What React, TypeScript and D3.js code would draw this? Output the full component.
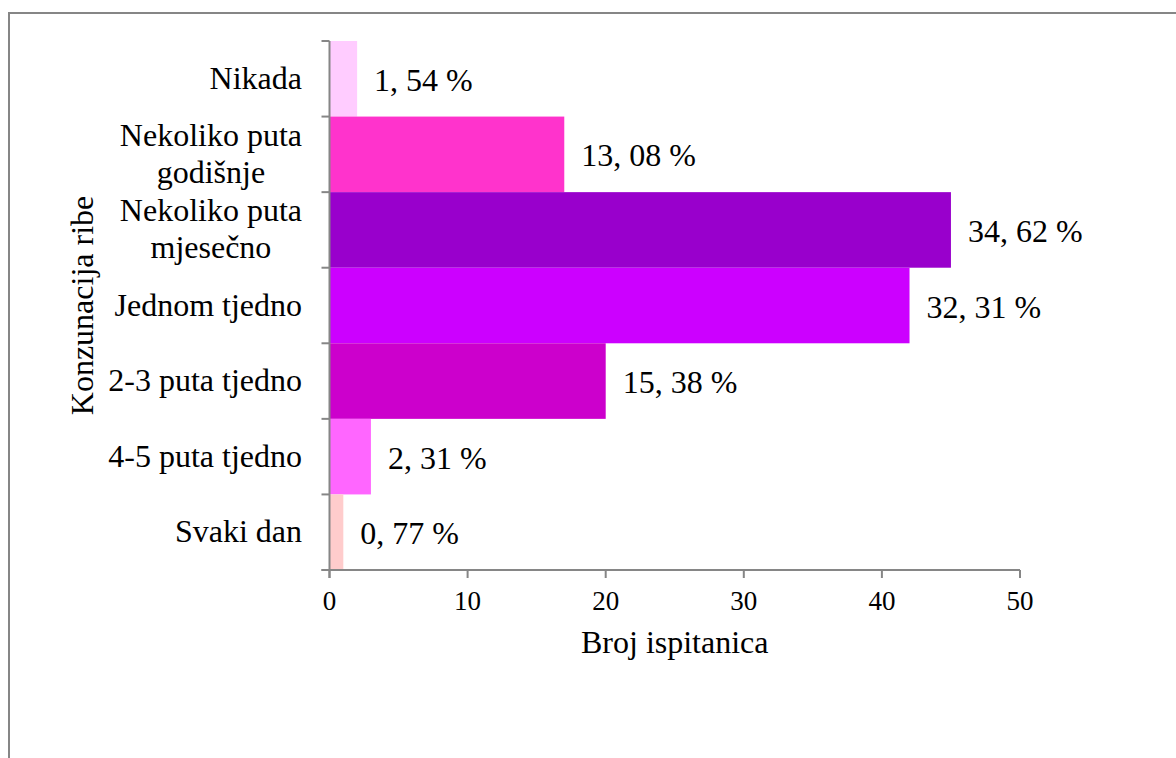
import React, { useEffect, useRef } from 'react';
import * as d3 from 'd3';

// frequency of fish consumption (number of respondents)
const categories = [
  'Nikada',
  'Nekoliko puta\ngodišnje',
  'Nekoliko puta\nmjesečno',
  'Jednom tjedno',
  '2-3 puta tjedno',
  '4-5 puta tjedno',
  'Svaki dan',
];
const counts = [2, 17, 45, 42, 20, 3, 1];
const barColors = ['#FFCCFF', '#FF33CC', '#9900CC', '#CC00FF', '#CC00CC', '#FF66FF', '#FFCCCC'];
const xTicks = [0, 10, 20, 30, 40, 50];

const xTitle = 'Broj ispitanica';
const yTitle = 'Konzunacija ribe';

const FONT = "'Liberation Serif', 'Times New Roman', Times, 'DejaVu Serif', serif";
const AXIS_COLOR = '#868686';

const App: React.FC = () => {
  const svgRef = useRef<SVGSVGElement>(null);

  const width = 1176;
  const height = 758;
  const plot = { left: 329.5, right: 1020, top: 41, bottom: 570 };

  useEffect(() => {
    document.body.style.margin = '0';
    document.body.style.overflow = 'hidden';
    if (!svgRef.current) return;

    const svg = d3.select(svgRef.current);
    svg.selectAll('*').remove();

    const total = d3.sum(counts);

    const x = d3.scaleLinear().domain([0, 50]).range([plot.left, plot.right]);
    const y = d3.scaleBand<string>()
      .domain(categories)
      .range([plot.top, plot.bottom])
      .padding(0);

    // outer chart frame (runs off the right and bottom of the picture)
    svg.append('rect')
      .attr('x', 9)
      .attr('y', 13)
      .attr('width', width)
      .attr('height', height)
      .attr('fill', 'none')
      .attr('stroke', AXIS_COLOR)
      .attr('stroke-width', 2);

    // bars
    svg.append('g')
      .selectAll('rect')
      .data(categories)
      .enter()
      .append('rect')
      .attr('x', x(0))
      .attr('y', (d) => y(d)!)
      .attr('width', (_, i) => x(counts[i]) - x(0))
      .attr('height', y.bandwidth())
      .attr('fill', (_, i) => barColors[i]);

    // value labels
    svg.append('g')
      .selectAll('text')
      .data(categories)
      .enter()
      .append('text')
      .attr('x', (_, i) => x(counts[i]) + 17)
      .attr('y', (d) => y(d)! + y.bandwidth() / 2 + 12)
      .style('font-family', FONT)
      .style('font-size', '32px')
      .attr('fill', '#000')
      .text((_, i) => ((counts[i] / total) * 100).toFixed(2).replace('.', ', ') + ' %');

    // x axis
    const xAxis = svg.append('g');
    xAxis.append('line')
      .attr('x1', plot.left - 8)
      .attr('x2', plot.right)
      .attr('y1', plot.bottom)
      .attr('y2', plot.bottom)
      .attr('stroke', AXIS_COLOR)
      .attr('stroke-width', 2);
    xTicks.forEach((t) => {
      xAxis.append('line')
        .attr('x1', x(t))
        .attr('x2', x(t))
        .attr('y1', plot.bottom)
        .attr('y2', plot.bottom + 8)
        .attr('stroke', AXIS_COLOR)
        .attr('stroke-width', 2);
      xAxis.append('text')
        .attr('x', x(t))
        .attr('y', 610)
        .attr('text-anchor', 'middle')
        .style('font-family', FONT)
        .style('font-size', '27px')
        .text(t);
    });

    // y axis
    const yAxis = svg.append('g');
    yAxis.append('line')
      .attr('x1', plot.left)
      .attr('x2', plot.left)
      .attr('y1', plot.top)
      .attr('y2', plot.bottom + 8)
      .attr('stroke', AXIS_COLOR)
      .attr('stroke-width', 2);
    d3.range(categories.length + 1).forEach((i) => {
      const yy = plot.top + i * y.step();
      yAxis.append('line')
        .attr('x1', plot.left - 8)
        .attr('x2', plot.left)
        .attr('y1', yy)
        .attr('y2', yy)
        .attr('stroke', AXIS_COLOR)
        .attr('stroke-width', 2);
    });

    // category labels: block right aligned, lines centred inside the block
    const labelRight = 302;
    const lineH = 37;
    categories.forEach((c) => {
      const lines = c.split('\n');
      const cy = y(c)! + y.bandwidth() / 2;
      const firstBase = cy + 10 - ((lines.length - 1) * lineH) / 2;
      const t = yAxis.append('text')
        .style('font-family', FONT)
        .style('font-size', '32px')
        .attr('text-anchor', 'middle');
      const spans = lines.map((l, k) =>
        t.append('tspan').attr('y', firstBase + k * lineH).text(l)
      );
      const maxW = d3.max(spans, (s) => (s.node() as SVGTSpanElement).getComputedTextLength()) || 0;
      spans.forEach((s) => s.attr('x', labelRight - maxW / 2));
    });

    // axis titles
    svg.append('text')
      .attr('x', (plot.left + plot.right) / 2)
      .attr('y', 653)
      .attr('text-anchor', 'middle')
      .style('font-family', FONT)
      .style('font-size', '32px')
      .text(xTitle);

    svg.append('text')
      .attr('transform', `translate(93, ${(plot.top + plot.bottom) / 2}) rotate(-90)`)
      .attr('text-anchor', 'middle')
      .style('font-family', FONT)
      .style('font-size', '32px')
      .text(yTitle);
  }, []);

  return (
    <svg
      ref={svgRef}
      width={width}
      height={height}
      style={{ position: 'absolute', left: 0, top: 0, background: '#fff' }}
    />
  );
};

export default App;
